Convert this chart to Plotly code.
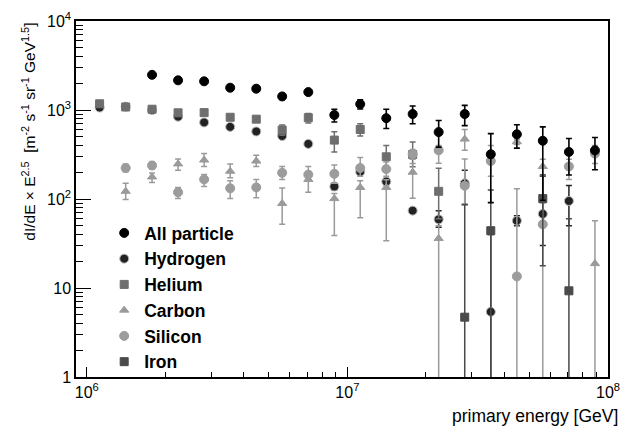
import plotly.graph_objects as go

# primary energy bin centres [GeV]
energy = [1.12e6, 1.41e6, 1.78e6, 2.24e6, 2.82e6, 3.55e6, 4.47e6, 5.62e6, 7.08e6, 8.91e6,
          1.12e7, 1.41e7, 1.78e7, 2.24e7, 2.82e7, 3.55e7, 4.47e7, 5.62e7, 7.08e7, 8.91e7]

N = None
# values and upper / lower error limits (dI/dE x E^2.5)
all_val = [N, N, 2485, 2155, 2100, 1780, 1735, 1420, 1590, 879, 1165, 809, 901, 565, 901, 318, 533, 451, 338, 352]
all_hi  = [N, N, 2485, 2155, 2100, 1780, 1735, 1420, 1590, 1020, 1300, 1020, 1107, 762, 1128, 543, 684, 646, 479, 491]
all_lo  = [N, N, 2485, 2155, 2100, 1780, 1735, 1420, 1590, 732, 1028, 619, 702, 383, 667, 91, 373, 97, 186, 213]

h_val = [1065, 1090, 1000, 841, 725, 646, 574, 511, 416, 138, 202, 157, 74, 59, 150, 5.4, 57, 68, 95, N]
h_hi  = [1065, 1090, 1000, 841, 725, 646, 574, 511, 416, 150, 215, 170, 74, 74, 210, 40, 65, 186, 142, N]
h_lo  = [1065, 1090, 1000, 841, 725, 646, 574, 511, 416, 126, 190, 145, 74, 48, 87, 0.5, 50, 30, 50, N]

he_val = [1175, 1081, 1020, 930, 935, 829, 789, 596, 819, 459, 604, 298, 316, 122, N, N, N, N, N, N]
he_hi  = [1175, 1081, 1020, 930, 935, 829, 789, 680, 916, 571, 702, 398, 437, 222, N, N, N, N, N, N]
he_lo  = [1175, 1081, 1020, 930, 935, 829, 789, 520, 714, 338, 511, 220, 230, 60, N, N, N, N, N, N]

c_val = [N, 122, 177, 248, 274, 205, 267, 89, 166, 101, 135, 135, 200, 36, 471, N, 440, 232, N, 18.8]
c_hi  = [N, 150, 196, 281, 324, 248, 310, 133, 196, 115, 160, 165, 250, 50, 604, N, 470, 280, N, 57]
c_lo  = [N, 99, 153, 210, 232, 173, 232, 52, 119, 39, 61.5, 34, 102, 0.5, 352, N, 410, 180, N, 0.5]

si_val = [N, 223, 238, 119, 166, 132, 135, 197, 188, 192, 223, 217, 320, 352, 141, 267, 13.5, 52, 232, 324]
si_hi  = [N, 245, 260, 135, 188, 160, 166, 232, 232, 241, 293, 260, 360, 400, 281, 400, 130, 90, 280, 400]
si_lo  = [N, 203, 218, 101, 138, 101, 103, 166, 160, 150, 180, 180, 280, 252, 86, 180, 0.5, 0.5, 166, 250]

fe_val = [N, N, N, N, N, N, N, N, N, N, N, N, N, N, 4.7, 44, N, 101, 9.3, N]
fe_hi  = [N, N, N, N, N, N, N, N, N, N, N, N, N, N, 87, 126, N, 180, 60, N]
fe_lo  = [N, N, N, N, N, N, N, N, N, N, N, N, N, N, 0.5, 0.5, N, 17.8, 0.5, N]

y_tickvals = [1, 10, 100, 1000, 10000]
y_ticktext = ["1", "10", "10<sup>2</sup>", "10<sup>3</sup>", "10<sup>4</sup>"]
x_tickvals = [1e6, 1e7, 1e8]
x_ticktext = ["10<sup>6</sup>", "10<sup>7</sup>", "10<sup>8</sup>"]


def errs(v, hi, lo):
    plus, minus = [], []
    for a, b, c in zip(v, hi, lo):
        if a is None:
            plus.append(0); minus.append(0)
        else:
            plus.append(max(b - a, 0)); minus.append(max(a - c, 0))
    return plus, minus


series = [
    # name, vals, hi, lo, symbol, color, size, edge, rank, thickness
    ("Hydrogen", h_val, h_hi, h_lo, "circle", "#222222", 9, "#b8b8b8", 2, 1.5),
    ("Helium", he_val, he_hi, he_lo, "square", "#6e6e6e", 8, "#6e6e6e", 3, 1.5),
    ("Carbon", c_val, c_hi, c_lo, "triangle-up", "#9a9a9a", 8, "#9a9a9a", 4, 1.5),
    ("Silicon", si_val, si_hi, si_lo, "circle", "#9c9c9c", 9, "#9c9c9c", 5, 1.5),
    ("Iron", fe_val, fe_hi, fe_lo, "square", "#4a4a4a", 8, "#4a4a4a", 6, 1.5),
    ("All particle", all_val, all_hi, all_lo, "circle", "#000000", 9, "#000000", 1, 1.6),
]

fig = go.Figure()
for name, v, hi, lo, sym, col, size, edge, rank, th in series:
    p, m = errs(v, hi, lo)
    fig.add_trace(go.Scatter(
        x=energy, y=v, mode="markers", name=name, legendrank=rank,
        marker=dict(symbol=sym, color=col, size=size, line=dict(color=edge, width=1)),
        error_y=dict(type="data", symmetric=False, array=p, arrayminus=m,
                     color=col, thickness=th, width=3),
    ))

font = "Liberation Sans, Arial, sans-serif"
fig.update_layout(
    width=630, height=432,
    margin=dict(l=76, r=12, t=10, b=55),
    paper_bgcolor="white", plot_bgcolor="white",
    font=dict(family=font, size=16, color="black"),
    showlegend=True,
    legend=dict(x=0.053, y=0.455, xanchor="left", yanchor="top",
                bgcolor="rgba(0,0,0,0)", font=dict(size=17.5, family=font, weight="bold"),
                tracegroupgap=0, itemsizing="trace"),
    xaxis=dict(type="log", range=[5.9586, 8.0], showgrid=False, zeroline=False,
               showline=True, linecolor="black", linewidth=1.5, mirror=True,
               ticks="inside", ticklen=10, tickwidth=1.3, tickcolor="black",
               tickvals=x_tickvals, ticktext=x_ticktext, ticklabeloverflow="allow",
               minor=dict(ticks="inside", ticklen=5, tickwidth=1.2, tickcolor="black",
                          dtick="D1", showgrid=False),
               tickfont=dict(size=16)),
    yaxis=dict(type="log", range=[0, 4], showgrid=False, zeroline=False,
               showline=True, linecolor="black", linewidth=1.5, mirror=True,
               ticks="inside", ticklen=15, tickwidth=1.3, tickcolor="black",
               tickvals=y_tickvals, ticktext=y_ticktext, ticklabeloverflow="allow",
               minor=dict(ticks="inside", ticklen=7, tickwidth=1.2, tickcolor="black",
                          dtick="D1", showgrid=False),
               tickfont=dict(size=16)),
    annotations=[
        dict(text="primary energy [GeV]", xref="paper", yref="paper", x=1.022, y=-0.075,
             xanchor="right", yanchor="top", showarrow=False, font=dict(size=17.5)),
        dict(text="dI/dE \u00d7 E<sup>2.5</sup>  [m<sup>-2</sup> s<sup>-1</sup> sr<sup>-1</sup> GeV<sup>1.5</sup>]",
             xref="paper", yref="paper", x=-0.089, y=1.0, xanchor="center", yanchor="top",
             textangle=-90, showarrow=False, font=dict(size=15.5)),
    ],
)

fig.write_html("out.html")
